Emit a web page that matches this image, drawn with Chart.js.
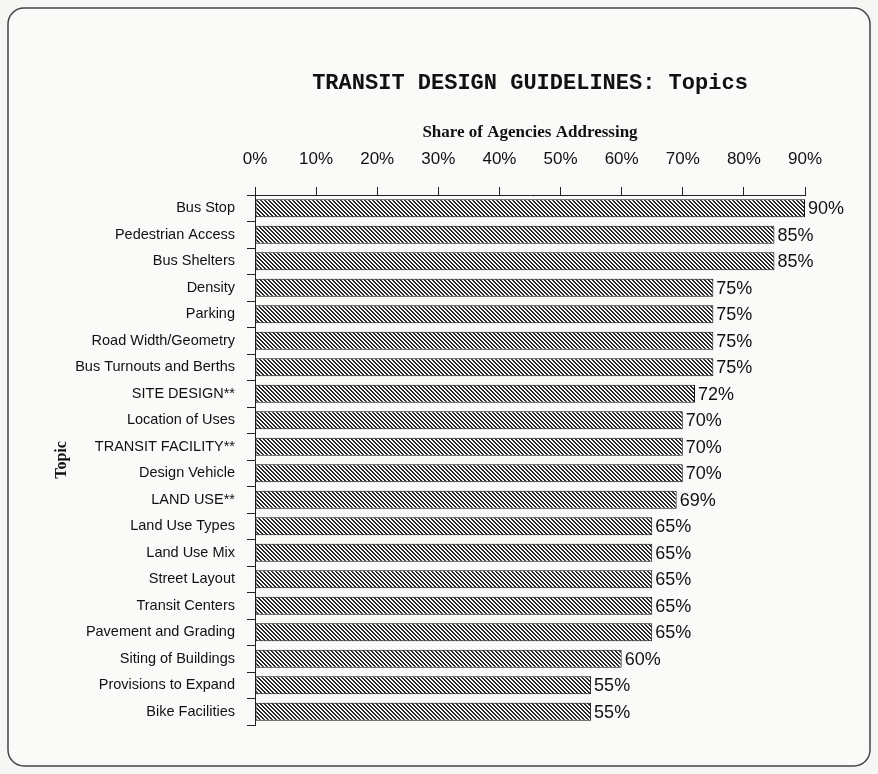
<!DOCTYPE html>
<html>
<head>
<meta charset="utf-8">
<title>Transit Design Guidelines: Topics</title>
<script src="https://cdn.jsdelivr.net/npm/chart.js@4"></script>
<style>
  body { margin:0; background:#f6f6f4; }
  #wrap { width:878px; height:774px; }
</style>
</head>
<body>
<div id="wrap"><canvas id="myChart" width="878" height="774"></canvas></div>
<script>
// chart data
var topics = ["Bus Stop", "Pedestrian Access", "Bus Shelters", "Density", "Parking",
              "Road Width/Geometry", "Bus Turnouts and Berths", "SITE DESIGN**",
              "Location of Uses", "TRANSIT FACILITY**", "Design Vehicle", "LAND USE**",
              "Land Use Types", "Land Use Mix", "Street Layout", "Transit Centers",
              "Pavement and Grading", "Siting of Buildings", "Provisions to Expand",
              "Bike Facilities"];
var shares = [90, 85, 85, 75, 75, 75, 75, 72, 70, 70, 70, 69, 65, 65, 65, 65, 65, 60, 55, 55];
var tickValues = [0, 10, 20, 30, 40, 50, 60, 70, 80, 90];

var chartTitle = "TRANSIT DESIGN GUIDELINES: Topics";
var xTitle = "Share of Agencies Addressing";
var yTitle = "Topic";

// hatch fill for the bars
var makeHatch = function(){
  var n = 4;
  var c = document.createElement("canvas");
  c.width = n; c.height = n;
  var g = c.getContext("2d");
  var img = g.createImageData(n, n);
  for (var y = 0; y < n; y++) {
    for (var x = 0; x < n; x++) {
      var dark = ((x - y + n) % n) < 2;
      var i = (y * n + x) * 4;
      var v = dark ? 40 : 248;
      img.data[i] = v; img.data[i+1] = v; img.data[i+2] = v; img.data[i+3] = 255;
    }
  }
  g.putImageData(img, 0, 0);
  return document.getElementById("myChart").getContext("2d").createPattern(c, "repeat");
};

// frame, title and value labels
var decor = {
  id: "decor",
  beforeDraw: function(chart){
    var g = chart.ctx;
    g.save();
    g.fillStyle = "#f6f6f4";
    g.fillRect(0, 0, chart.width, chart.height);
    g.beginPath();
    g.roundRect(8, 8, 862, 758, 16);
    g.fillStyle = "#fafaf8";
    g.fill();
    g.lineWidth = 1.5;
    g.strokeStyle = "#444";
    g.stroke();
    g.restore();
  },
  afterDraw: function(chart){
    var g = chart.ctx;
    var area = chart.chartArea;
    g.save();
    g.fillStyle = "#111";
    g.font = "bold 22px 'Liberation Mono', 'Courier New', monospace";
    g.textAlign = "center";
    g.textBaseline = "middle";
    g.fillText(chartTitle, (area.left + area.right) / 2, 83);
    g.restore();
  },
  afterDatasetsDraw: function(chart){
    var g = chart.ctx;
    var meta = chart.getDatasetMeta(0);
    g.save();
    g.fillStyle = "#111";
    g.font = "18px 'Liberation Sans', Arial, sans-serif";
    g.textAlign = "left";
    g.textBaseline = "middle";
    meta.data.forEach(function(bar, i){
      g.fillText(shares[i] + "%", bar.x + 3, bar.y + 1);
    });
    g.restore();
  }
};

var ctx = document.getElementById("myChart");
new Chart(ctx, {
  type: "bar",
  data: {
    labels: topics,
    datasets: [{
      data: shares,
      backgroundColor: makeHatch(),
      borderColor: "#111",
      borderWidth: 1,
      borderSkipped: false,
      barPercentage: 0.68,
      categoryPercentage: 1
    }]
  },
  options: {
    indexAxis: "y",
    responsive: false,
    animation: false,
    layout: { padding: { left: 0, top: 0, right: 73, bottom: 49 } },
    plugins: {
      legend: { display: false },
      tooltip: { enabled: false }
    },
    scales: {
      x: {
        position: "top",
        min: 0,
        max: 90,
        afterBuildTicks: function(scale){
          scale.ticks = tickValues.map(function(v){ return { value: v }; });
        },
        afterFit: function(scale){ scale.height = 195; },
        ticks: {
          color: "#111",
          padding: 17,
          font: { family: "'Liberation Sans', Arial, sans-serif", size: 17 },
          callback: function(v){ return v + "%"; }
        },
        grid: { drawOnChartArea: false, drawTicks: true, tickLength: 8, color: "#222" },
        border: { display: true, color: "#222", width: 1 },
        title: {
          display: true,
          text: xTitle,
          color: "#111",
          padding: { top: 122, bottom: 0 },
          font: { family: "'Liberation Serif', 'Times New Roman', serif", size: 17, weight: "bold" }
        }
      },
      y: {
        afterFit: function(scale){ scale.width = 255; },
        ticks: {
          color: "#111",
          padding: 12,
          autoSkip: false,
          font: { family: "'Liberation Sans', Arial, sans-serif", size: 14.5 }
        },
        grid: { drawOnChartArea: false, drawTicks: true, tickLength: 8, color: "#222", offset: true },
        border: { display: true, color: "#222", width: 1 },
        title: {
          display: true,
          text: yTitle,
          color: "#111",
          padding: { top: 52, bottom: 0 },
          font: { family: "'Liberation Serif', 'Times New Roman', serif", size: 16, weight: "bold" }
        }
      }
    }
  },
  plugins: [decor]
});
</script>
</body>
</html>
